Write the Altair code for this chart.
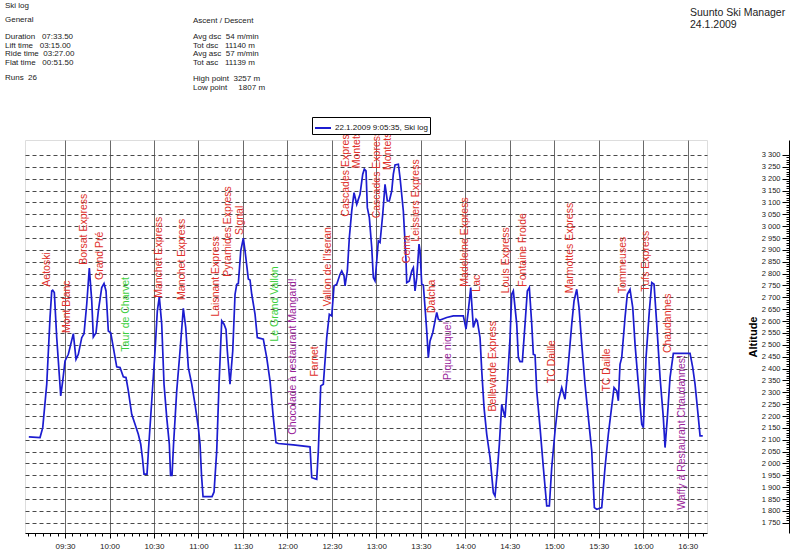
import altair as alt
import pandas as pd

DAY = "2009-01-22T"

# ---- altitude profile (time of day, metres) ----
times = [
    "09:05:35", "09:13:08", "09:14:58", "09:17:40", "09:19:53", "09:21:02", "09:21:42", "09:22:47",
    "09:24:24", "09:25:29", "09:27:06", "09:28:27", "09:30:00", "09:32:14", "09:35:36", "09:37:25",
    "09:38:58", "09:41:16", "09:42:49", "09:44:38", "09:46:23", "09:48:01", "09:49:05", "09:50:55",
    "09:52:28", "09:54:45", "09:56:18", "09:57:39", "09:59:12", "10:00:49", "10:02:35", "10:04:52",
    "10:07:06", "10:09:19", "10:11:08", "10:12:42", "10:14:59", "10:17:13", "10:19:26", "10:21:04",
    "10:22:16", "10:23:17", "10:25:18", "10:26:19", "10:28:29", "10:30:42", "10:32:15", "10:33:36",
    "10:35:13", "10:36:46", "10:38:36", "10:40:21", "10:41:10", "10:42:10", "10:43:11", "10:45:20",
    "10:47:34", "10:49:47", "10:51:25", "10:53:10", "10:55:28", "10:57:41", "10:59:55", "11:01:04",
    "11:02:04", "11:03:05", "11:09:09", "11:10:30", "11:12:19", "11:13:52", "11:15:41", "11:17:15",
    "11:18:35", "11:19:28", "11:21:17", "11:23:07", "11:24:40", "11:25:49", "11:26:53", "11:28:31",
    "11:30:16", "11:31:25", "11:33:38", "11:34:47", "11:35:56", "11:38:09", "11:39:42", "11:41:03",
    "11:43:45", "11:46:02", "11:48:16", "11:50:29", "11:52:19", "11:53:52", "12:03:59", "12:15:15",
    "12:16:24", "12:19:46", "12:20:51", "12:22:28", "12:24:13", "12:26:31", "12:28:16", "12:29:53",
    "12:31:26", "12:33:16", "12:35:29", "12:36:38", "12:38:11", "12:38:52", "12:40:25", "12:41:46",
    "12:43:23", "12:44:56", "12:46:45", "12:48:58", "12:50:48", "12:51:52", "12:53:01", "12:53:54",
    "12:55:15", "12:56:52", "12:57:57", "12:59:05", "13:00:14", "13:01:19", "13:02:28", "13:04:17",
    "13:05:50", "13:07:23", "13:08:44", "13:10:21", "13:11:26", "13:12:35", "13:14:49", "13:15:58",
    "13:18:11", "13:20:00", "13:20:28", "13:22:14", "13:23:51", "13:24:56", "13:26:04", "13:27:13",
    "13:28:46", "13:29:27", "13:30:35", "13:31:40", "13:32:49", "13:33:58", "13:35:02", "13:36:11",
    "13:38:01", "13:39:34", "13:40:43", "13:41:47", "13:42:56", "13:47:27", "13:51:54", "13:58:39",
    "14:00:28", "14:02:01", "14:03:38", "14:05:23", "14:07:13", "14:08:05", "14:09:55", "14:11:04",
    "14:12:37", "14:14:26", "14:16:40", "14:18:53", "14:20:02", "14:21:35", "14:22:56", "14:24:33",
    "14:25:38", "14:26:46", "14:28:19", "14:30:09", "14:31:17", "14:32:22", "14:34:40", "14:35:45",
    "14:36:53", "14:38:27", "14:40:16", "14:41:49", "14:43:10", "14:44:47", "14:45:52", "14:47:01",
    "14:48:10", "14:50:23", "14:52:37", "14:54:54", "14:56:40", "14:58:16", "15:00:30", "15:02:44",
    "15:05:01", "15:07:15", "15:09:29", "15:11:46", "15:13:19", "15:15:08", "15:16:41", "15:18:31",
    "15:20:44", "15:22:58", "15:25:16", "15:27:01", "15:28:38", "15:32:00", "15:34:13", "15:36:27",
    "15:38:45", "15:40:18", "15:42:07", "15:43:12", "15:44:20", "15:45:29", "15:47:43", "15:49:16",
    "15:51:05", "15:52:55", "15:54:28", "15:56:41", "15:58:59", "16:00:04", "16:01:53", "16:04:07",
    "16:05:44", "16:07:17", "16:09:06", "16:11:20", "16:13:33", "16:14:42", "16:16:15", "16:18:04",
    "16:20:18", "16:25:58", "16:31:34", "16:33:23", "16:34:56", "16:37:10", "16:38:19", "16:40:08",
]
altitudes = [
    2112, 2109, 2151, 2334, 2615, 2727, 2730, 2720,
    2530, 2432, 2285, 2348, 2432, 2460, 2547, 2439,
    2460, 2530, 2547, 2671, 2823, 2685, 2533, 2551,
    2643, 2741, 2758, 2727, 2558, 2551, 2488, 2407,
    2404, 2365, 2362, 2306, 2207, 2165, 2123, 2081,
    2020, 1955, 1955, 2060, 2263, 2474, 2643, 2702,
    2587, 2334, 2193, 2081, 1950, 1950, 2080, 2306,
    2474, 2654, 2572, 2404, 2334, 2249, 2151, 2081,
    1950, 1860, 1860, 1880, 2053, 2334, 2601, 2587,
    2565, 2474, 2334, 2474, 2713, 2755, 2758, 2896,
    2949, 2896, 2777, 2773, 2713, 2629, 2530, 2528,
    2524, 2446, 2348, 2193, 2088, 2084, 2078, 2070,
    1940, 1933, 2053, 2327, 2334, 2530, 2629, 2622,
    2748, 2755, 2797, 2811, 2790, 2748, 2811, 2952,
    3064, 3141, 3092, 3134, 3219, 3240, 3233, 3078,
    3036, 2910, 2783, 2769, 2853, 2938, 2931, 3050,
    3176, 3106, 3106, 3148, 3219, 3258, 3261, 3204,
    3064, 2853, 2762, 2769, 2811, 2825, 2727, 2783,
    2924, 2896, 2755, 2752, 2657, 2558, 2446, 2516,
    2551, 2601, 2636, 2608, 2604, 2615, 2622, 2622,
    2566, 2643, 2741, 2573, 2608, 2601, 2530, 2390,
    2235, 2123, 2025, 1877, 1863, 1969, 2081, 2249,
    2221, 2193, 2334, 2530, 2713, 2727, 2587, 2446,
    2429, 2429, 2587, 2727, 2741, 2587, 2460, 2457,
    2306, 2151, 1983, 1821, 1821, 1983, 2137, 2263,
    2320, 2271, 2418, 2587, 2685, 2734, 2657, 2502,
    2334, 2193, 2053, 1814, 1807, 1814, 1983, 2123,
    2242, 2320, 2306, 2264, 2418, 2446, 2615, 2713,
    2734, 2657, 2502, 2334, 2165, 2151, 2446, 2643,
    2762, 2755, 2587, 2362, 2193, 2067, 2193, 2362,
    2464, 2464, 2464, 2404, 2334, 2193, 2116, 2116,
]

# ---- waypoint labels ----
label_names = [
    "Aetoski", "Mont Blanc", "Borsat Express", "Grand Pré", "Taur de Charvet",
    "Manchet Express", "Manchet Express", "Laisnant Express", "Pyramides Express", "Signal",
    "Le Grand Vallon", "Chocolade à restaurant Mangard!", "Farnet", "Vallon de l'Iseran",
    "Cascades Express", "Montets", "Cascades Express", "Montets", "Cema", "Leissiers Express",
    "Datcha", "Pique nique!", "Madeleine Express", "Lac", "Bellevarde Express", "Louis Express",
    "Fontaine Froide", "TC Daille", "Marmottes Express", "TC Daille", "Tommeuses", "Tufs Express",
    "Chaudannes", "Waffy à Restaurant Chaudannes!",
]
label_times = [
    "09:17:42", "09:31:06", "09:42:48", "09:53:36", "10:11:06",
    "10:33:36", "10:48:42", "11:11:48", "11:20:06", "11:28:00",
    "11:51:18", "12:04:00", "12:18:36", "12:27:36",
    "12:39:30", "12:46:42", "13:00:12", "13:07:42", "13:20:30", "13:26:42",
    "13:37:18", "13:48:30", "13:59:48", "14:07:42", "14:18:54", "14:27:06",
    "14:38:42", "14:58:18", "15:10:36", "15:35:24", "15:46:12", "16:01:54",
    "16:17:00", "16:26:00",
]
label_alts = [
    2745, 2550, 2837, 2773, 2471,
    2698, 2689, 2619, 2787, 2963,
    2514, 2121, 2366, 2661,
    3040, 3244, 3033, 3237, 2844, 2935,
    2634, 2352, 2745, 2724, 2219, 2717,
    2745, 2338, 2717, 2303, 2717, 2724,
    2465, 1805,
]
label_kinds = [
    "lift", "lift", "lift", "lift", "run",
    "lift", "lift", "lift", "lift", "lift",
    "run", "stop", "lift", "lift",
    "lift", "lift", "lift", "lift", "lift", "lift",
    "lift", "stop", "lift", "lift", "lift", "lift",
    "lift", "lift", "lift", "lift", "lift", "lift",
    "lift", "stop",
]

NB = "\u00a0"
header_left = ["Ski log", "General", "Duration" + NB * 3 + "07:33.50", "Lift time" + NB * 3 + "03:15.00",
               "Ride time" + NB * 2 + "03:27.00", "Flat time" + NB * 3 + "00:51.50", "Runs" + NB * 2 + "26"]
header_right = ["Ascent / Descent", "Avg dsc" + NB * 2 + "54 m/min", "Tot dsc" + NB * 3 + "11140 m",
                "Avg asc" + NB * 2 + "57 m/min", "Tot asc" + NB * 3 + "11139 m",
                "High point" + NB * 2 + "3257 m", "Low point" + NB * 5 + "1807 m"]
header_app = ["Suunto Ski Manager", "24.1.2009"]
legend_label = "22.1.2009 9:05:35, Ski log"

FONT = "Liberation Sans"

df = pd.DataFrame({"time": [DAY + t for t in times], "alt": altitudes})
df_lab = pd.DataFrame({
    "time": [DAY + t for t in label_times],
    "alt": label_alts,
    "name": label_names,
    "kind": label_kinds,
})


def dt(h, m, s=0):
    return alt.DateTime(year=2009, month=1, date=22, hours=h, minutes=m, seconds=s)


xscale = alt.Scale(domain=[dt(9, 3), dt(16, 43)])
yscale = alt.Scale(domain=[1707, 3363], nice=False, zero=False)

major_x = [dt(9 + (30 + 30 * i) // 60, (30 + 30 * i) % 60) for i in range(15)]
minor_x = [dt(9 + (5 * i) // 60, (5 * i) % 60) for i in range(1, 97)]
major_y = list(range(1750, 3301, 50))
minor_y = list(range(1750, 3301, 10))

Y_OFF = -764

# main line with grid axes
line = alt.Chart(df).transform_calculate(series=f"'{legend_label}'").mark_line(
    strokeWidth=1.7, interpolate="linear"
).encode(
    x=alt.X("time:T", scale=xscale, axis=alt.Axis(
        orient="bottom", values=major_x, format="%H:%M", grid=True, gridColor="#6a6a6a",
        gridWidth=1, tickSize=5, tickColor="#000", domainColor="#000", labelFontSize=8,
        labelColor="#222", labelPadding=4, title=None, labelFlush=False)),
    y=alt.Y("alt:Q", scale=yscale, axis=alt.Axis(
        orient="left", values=major_y, grid=True, gridDash=[4, 3], gridColor="#4a4a4a",
        gridWidth=1, labels=False, ticks=False, domain=False, title=None)),
    color=alt.Color("series:N", scale=alt.Scale(range=["#1c1cd0"]), legend=alt.Legend(
        title=None, orient="none", legendX=287, legendY=-23, symbolType="stroke",
        symbolStrokeWidth=2, symbolSize=256, strokeColor="#000", fillColor="#fff",
        padding=2, labelFontSize=8, labelColor="#111", cornerRadius=0, labelOffset=3)),
)

lab_base = alt.Chart(df_lab)


def labels(kind, color, xaxis, yaxis):
    return lab_base.transform_filter(alt.datum.kind == kind).mark_text(
        angle=270, align="left", baseline="middle", fontSize=10.5, color=color, font=FONT
    ).encode(
        x=alt.X("time:T", scale=xscale, axis=xaxis),
        y=alt.Y("alt:Q", scale=yscale, axis=yaxis),
        text="name:N",
    )


y_main_axis = alt.Axis(
    orient="left", offset=Y_OFF, values=major_y,
    labelExpr="replace(format(datum.value, ','), ',', ' ')",
    grid=False, tickSize=7, tickColor="#000", domainColor="#000", labelFontSize=7.5,
    labelColor="#222", labelPadding=2, title="Altitude", titleFontSize=11,
    titleFontWeight="bold", titlePadding=3, titleColor="#000")
y_minor_axis = alt.Axis(
    orient="left", offset=Y_OFF, values=minor_y, grid=False, tickSize=3, tickColor="#000",
    labels=False, domain=False, title=None)
x_minor_axis = alt.Axis(
    orient="bottom", values=minor_x, grid=False, tickSize=3, tickColor="#000",
    labels=False, domain=False, title=None)

red = labels("lift", "#e0302a", None, y_main_axis)
green = labels("run", "#3dcf3d", x_minor_axis, y_minor_axis)
purple = labels("stop", "#9a1f9a", None, None)

one = pd.DataFrame({"k": [0]})


def header(text, x, y, size=8):
    return alt.Chart(one).mark_text(
        text=text, align="left", baseline="middle", fontSize=size, color="#222", font=FONT
    ).encode(x=alt.value(x), y=alt.value(y))


head_layers = []
left_y = [-134, -120, -103, -94.5, -86, -77.5, -62]
for s, yy in zip(header_left, left_y):
    head_layers.append(header(s, -20, yy))
right_y = [-119.5, -103, -94.5, -86, -77.5, -61, -52.5]
for s, yy in zip(header_right, right_y):
    head_layers.append(header(s, 168, yy))
head_layers.append(header(header_app[0], 665, -127, 10.5))
head_layers.append(header(header_app[1], 665, -115, 10.5))

chart = alt.layer(line, red, green, purple, *head_layers).resolve_axis(
    x="independent", y="independent"
).properties(
    width=682, height=393,
    padding={"left": 25, "top": 140, "right": 93, "bottom": 26},
    autosize=alt.AutoSizeParams(type="none"),
).configure_view(stroke=None).configure(font=FONT).configure_axis(
    labelFont=FONT, titleFont=FONT
).configure_legend(labelFont=FONT)

chart.save("out.html", embed_options={"renderer": "svg", "actions": False})
